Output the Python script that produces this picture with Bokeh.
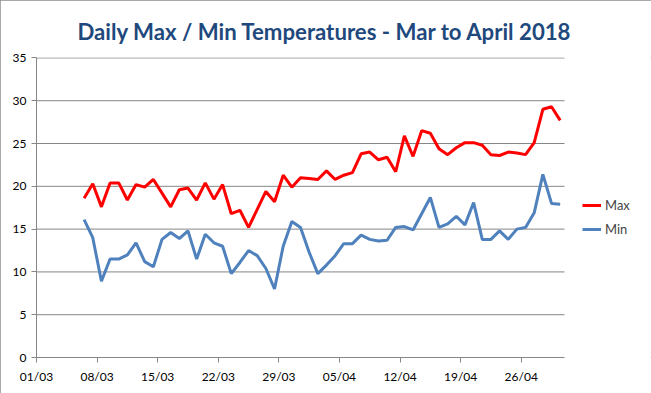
import pandas as pd
from bokeh.plotting import figure
from bokeh.models import (ColumnDataSource, FixedTicker, DatetimeTickFormatter,
                          Legend, LegendItem, Title, Range1d)
from bokeh.embed import file_html
from bokeh.resources import INLINE

# ---- data ----
dates = list(pd.date_range("2018-03-06", "2018-04-30", freq="D"))
max_temp = [18.6, 20.3, 17.6, 20.4, 20.4, 18.4, 20.2, 19.9, 20.8, 19.2,
            17.6, 19.6, 19.8, 18.4, 20.4, 18.5, 20.2, 16.8, 17.2, 15.2,
            17.3, 19.4, 18.2, 21.3, 19.9, 21.0, 20.9, 20.8, 21.8, 20.8,
            21.3, 21.6, 23.8, 24.0, 23.1, 23.4, 21.7, 25.9, 23.5, 26.5,
            26.2, 24.4, 23.7, 24.5, 25.1, 25.1, 24.8, 23.7, 23.6, 24.0,
            23.9, 23.7, 25.1, 29.0, 29.3, 27.7]
min_temp = [16.1, 14.0, 8.9, 11.5, 11.5, 12.0, 13.4, 11.2, 10.6, 13.8,
            14.6, 13.9, 14.8, 11.5, 14.4, 13.4, 13.0, 9.8, 11.1, 12.5,
            11.9, 10.4, 8.0, 13.0, 15.9, 15.2, 12.3, 9.8, 10.8, 11.9,
            13.3, 13.3, 14.3, 13.8, 13.6, 13.7, 15.2, 15.3, 14.9, 16.8,
            18.7, 15.2, 15.6, 16.5, 15.5, 18.1, 13.8, 13.8, 14.8, 13.8,
            15.0, 15.2, 16.9, 21.4, 18.0, 17.9]
tick_dates = ["2018-03-01", "2018-03-08", "2018-03-15", "2018-03-22", "2018-03-29",
              "2018-04-05", "2018-04-12", "2018-04-19", "2018-04-26"]
y_ticks = [0, 5, 10, 15, 20, 25, 30, 35]
title_text = "Daily Max / Min Temperatures - Mar to April 2018"

# points sit in the middle of each day (Excel date axis)
xs = [d + pd.Timedelta(hours=12) for d in dates]
src = ColumnDataSource(dict(x=xs, mx=max_temp, mn=min_temp))

x_start = pd.Timestamp("2018-03-01")
x_end = pd.Timestamp("2018-05-01")

W, H = 651, 393
left, top, bottom = 36, 57, 36
axis_px = 528  # pixel length of the date axis
frame_w = W - left
view_end = x_start + (x_end - x_start) * (frame_w / axis_px)

p = figure(width=W, height=H, output_backend="svg", toolbar_location=None,
           x_axis_type="datetime",
           x_range=Range1d(x_start, view_end), y_range=Range1d(0, 35.05),
           min_border_left=left, min_border_right=0, min_border_top=top,
           min_border_bottom=bottom)
p.styles = {"outline": "1px solid #8c8c8c", "outline-offset": "-1px"}
p.outline_line_color = None
p.background_fill_color = "white"
p.border_fill_color = "white"

t = Title(text=title_text, align="left", text_font="Lato",
          text_font_size="22.2px", text_font_style="bold", text_color="#1F497D",
          offset=41, standoff=26)
p.add_layout(t, "above")

grid_col = "#868686"
# horizontal gridlines spanning only the date axis
gy = [v for v in y_ticks if v > 0]
p.segment(x0=[x_start] * len(gy), x1=[x_end] * len(gy), y0=gy, y1=gy,
          line_color=grid_col, line_width=1)

r1 = p.line("x", "mx", source=src, line_color="#FF0000", line_width=3)
r2 = p.line("x", "mn", source=src, line_color="#4F81BD", line_width=3)

p.xgrid.grid_line_color = None
p.ygrid.grid_line_color = None

p.yaxis.ticker = FixedTicker(ticks=y_ticks)
p.xaxis.ticker = FixedTicker(ticks=[pd.Timestamp(d).value // 10**6 for d in tick_dates])
p.xaxis.formatter = DatetimeTickFormatter(days="%d/%m", months="%d/%m", hours="%d/%m")
p.xaxis.bounds = (x_start, x_end)

for ax in (p.xaxis[0], p.yaxis[0]):
    ax.axis_line_color = grid_col
    ax.major_tick_line_color = grid_col
    ax.major_tick_out = 5
    ax.major_tick_in = 0
    ax.minor_tick_line_color = None
    ax.major_label_text_font = "Lato"
    ax.major_label_text_font_size = "12px"
    ax.major_label_text_color = "#000000"
p.xaxis.major_label_standoff = 6
p.yaxis.major_label_standoff = 5

legend = Legend(items=[LegendItem(label="Max", renderers=[r1]),
                       LegendItem(label="Min", renderers=[r2])],
                location=(546, 119), orientation="vertical",
                border_line_color=None, background_fill_alpha=0,
                padding=0, margin=0, spacing=6,
                glyph_width=19, glyph_height=18, label_height=18,
                label_standoff=4, label_text_font="Lato",
                label_text_font_size="13px")
p.add_layout(legend, "center")

open("out.html", "w").write(file_html(p, INLINE))
